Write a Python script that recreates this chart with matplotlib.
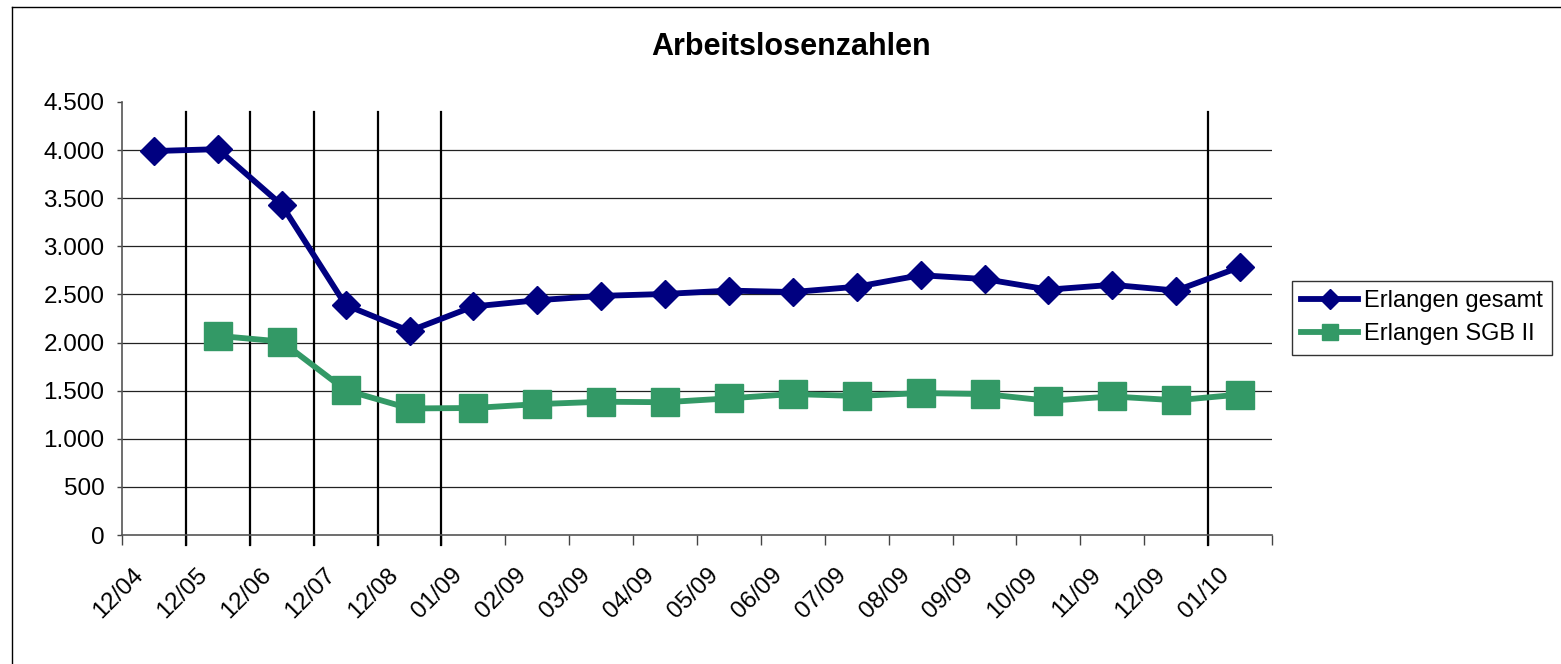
import numpy as np
import matplotlib
matplotlib.use("Agg")
import matplotlib.pyplot as plt
from matplotlib.lines import Line2D
from matplotlib.transforms import blended_transform_factory
from matplotlib.ticker import FuncFormatter, FixedLocator

plt.rcParams["font.family"] = ["Liberation Sans", "DejaVu Sans"]

# --- data ---
months = ["12/04", "12/05", "12/06", "12/07", "12/08", "01/09", "02/09", "03/09", "04/09",
          "05/09", "06/09", "07/09", "08/09", "09/09", "10/09", "11/09", "12/09", "01/10"]
gesamt = [3990, 4010, 3430, 2390, 2120, 2375, 2440, 2485, 2505, 2540,
          2525, 2580, 2700, 2660, 2550, 2600, 2540, 2785]
sgb2 = [np.nan, 2070, 2010, 1505, 1315, 1320, 1360, 1385, 1380, 1420,
        1465, 1445, 1475, 1465, 1395, 1440, 1400, 1460]
separators = [1, 2, 3, 4, 5, 17]   # heavy vertical lines at these category boundaries

W, H, DPI = 1561, 664, 100
fig = plt.figure(figsize=(W / DPI, H / DPI), dpi=DPI)
# plot area in pixels: x 122..1272, y 102..535
ax = fig.add_axes([122 / W, 1 - 535 / H, (1272 - 122) / W, (535 - 102) / H])

n = len(months)
x = np.arange(n) + 0.5
navy = "#000080"
green = "#339966"

ax.plot(x, gesamt, color=navy, lw=4.2, marker="D", ms=14, zorder=4)
ax.plot(x, sgb2, color=green, lw=4.2, marker="s", ms=20, zorder=3)

ax.set_xlim(0, n)
ax.set_ylim(0, 4500)
yt = np.arange(0, 4501, 500)
ax.set_yticks(yt)
ax.yaxis.set_major_formatter(FuncFormatter(lambda v, p: f"{v:,.0f}".replace(",", ".")))
# gridlines everywhere except the top tick
for v in yt[1:-1]:
    ax.axhline(v, color="#222222", lw=0.9, zorder=1)

# tick marks at category boundaries, labels slightly right of each boundary
ax.xaxis.set_minor_locator(FixedLocator(np.arange(n + 1)))
ax.set_xticks(np.arange(n) + 0.4)
ax.set_xticklabels(months, rotation=45, ha="right", va="top")
ax.tick_params(axis="x", which="major", length=0, pad=21, labelsize=17.5)
ax.tick_params(axis="x", which="minor", length=7, width=1, color="#444444")
ax.tick_params(axis="y", length=3.6, width=1, color="#444444", pad=9, labelsize=17.5)

for side in ["top", "right"]:
    ax.spines[side].set_visible(False)
for side in ["left", "bottom"]:
    ax.spines[side].set_color("#555555")
    ax.spines[side].set_linewidth(1.2)

# heavy separators, running a little past the axis
trans = blended_transform_factory(ax.transData, ax.transAxes)
for s in separators:
    ax.add_line(Line2D([s, s], [-0.023, 0.977], transform=trans, color="black",
                       lw=1.6, clip_on=False, zorder=2))

fig.text(791 / W, 1 - 47 / H, "Arbeitslosenzahlen", ha="center", va="center",
         fontsize=22, fontweight="bold")

handles = [Line2D([], [], color=navy, lw=4.2, marker="D", ms=10),
           Line2D([], [], color=green, lw=4.2, marker="s", ms=11)]
leg = fig.legend(handles, ["Erlangen gesamt", "Erlangen SGB II"],
                 loc="upper left", bbox_to_anchor=(1292 / W, 1 - 281 / H),
                 fontsize=17, frameon=True, fancybox=False, handlelength=2.4,
                 handletextpad=0.25, borderpad=0.4, labelspacing=0.45, borderaxespad=0)
leg.get_frame().set_edgecolor("black")
leg.get_frame().set_linewidth(1)

# outer chart border (only left and top edges are inside the image)
fig.add_artist(Line2D([12 / W, 12 / W], [0, 1 - 7 / H], transform=fig.transFigure, color="black", lw=1))
fig.add_artist(Line2D([12 / W, 1], [1 - 7 / H, 1 - 7 / H], transform=fig.transFigure, color="black", lw=1))

fig.savefig("out.png", dpi=DPI)
